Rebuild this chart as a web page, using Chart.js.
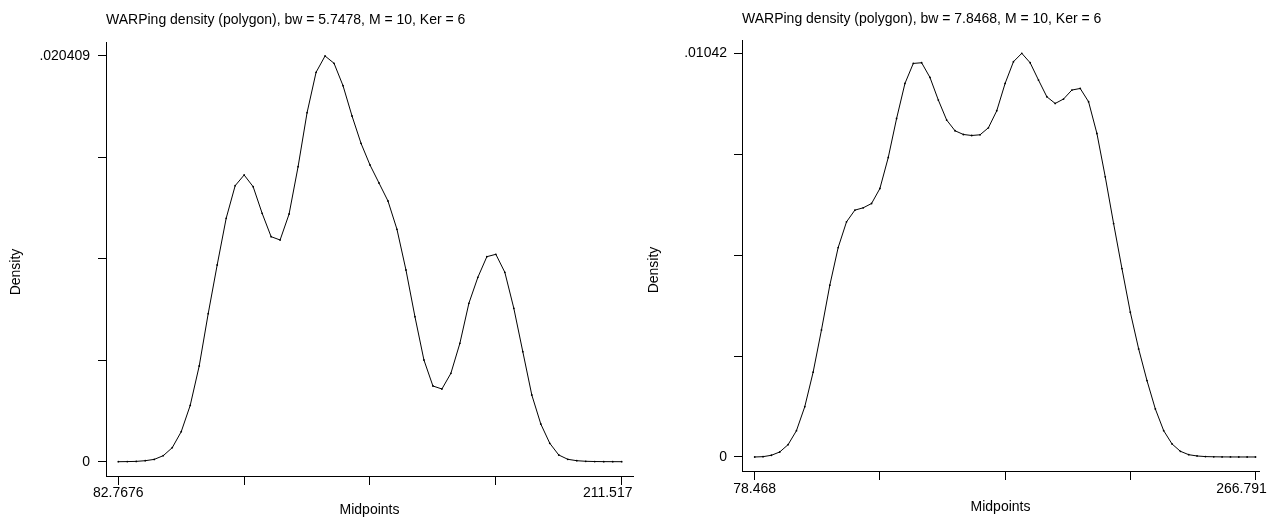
<!DOCTYPE html>
<html>
<head>
<meta charset="utf-8">
<script src="https://cdn.jsdelivr.net/npm/chart.js@4.4.1/dist/chart.umd.min.js"></script>
<style>
  html, body { margin: 0; padding: 0; background: #fff; }
  #wrap { position: relative; width: 1276px; height: 518px; }
  canvas { position: absolute; top: 0; }
  #c1 { left: 0; }
  #c2 { left: 638px; }
</style>
</head>
<body>
<div id="wrap">
  <canvas id="c1" width="638" height="518"></canvas>
  <canvas id="c2" width="638" height="518"></canvas>
</div>
<script>
// ---------- data : left panel ----------
const titleLeft = 'WARPing density (polygon), bw = 5.7478, M = 10, Ker = 6';
const midpointsLeft = [
  82.768, 85.067, 87.366, 89.665, 91.964, 94.263, 96.562, 98.861, 101.160, 103.459,
  105.759, 108.058, 110.357, 112.656, 114.955, 117.254, 119.553, 121.852, 124.151, 126.450,
  128.750, 131.049, 133.348, 135.647, 137.946, 140.245, 142.544, 144.843, 147.142, 149.441,
  151.741, 154.040, 156.339, 158.638, 160.937, 163.236, 165.535, 167.834, 170.133, 172.432,
  174.732, 177.031, 179.330, 181.629, 183.928, 186.227, 188.526, 190.825, 193.124, 195.423,
  197.723, 200.022, 202.321, 204.620, 206.919, 209.218, 211.517
];
const densityLeft = [
  0, 0.000005, 0.000015, 0.00005, 0.000116, 0.000302, 0.000704, 0.001509, 0.002832, 0.004814,
  0.007445, 0.009895, 0.012245, 0.013884, 0.014423, 0.013834, 0.012496, 0.011319, 0.011153, 0.012461,
  0.014840, 0.017557, 0.019589, 0.020409, 0.020042, 0.018915, 0.017391, 0.016017, 0.014926, 0.014020,
  0.013115, 0.011691, 0.009644, 0.007294, 0.005116, 0.003808, 0.003657, 0.004447, 0.005956, 0.007968,
  0.009276, 0.010313, 0.010433, 0.009528, 0.007717, 0.005534, 0.003355, 0.001897, 0.000926, 0.000337,
  0.000121, 0.00005, 0.00002, 0.000008, 0.000003, 0.000001, 0
];
const xTicksLeft = [82.7676, 114.955, 147.142, 179.330, 211.517];
const xTickLabelsLeft = ['82.7676', '', '', '', '211.517'];
const yTicksLeft = [0, 0.00510225, 0.0102045, 0.01530675, 0.020409];
const yTickLabelsLeft = ['0', '', '', '', '.020409'];

// ---------- data : right panel ----------
const titleRight = 'WARPing density (polygon), bw = 7.8468, M = 10, Ker = 6';
const midpointsRight = [
  78.468, 81.607, 84.745, 87.884, 91.023, 94.162, 97.300, 100.439, 103.578, 106.716,
  109.855, 112.994, 116.133, 119.271, 122.410, 125.549, 128.688, 131.826, 134.965, 138.104,
  141.242, 144.381, 147.520, 150.659, 153.797, 156.936, 160.075, 163.214, 166.352, 169.491,
  172.630, 175.768, 178.907, 182.046, 185.185, 188.323, 191.462, 194.601, 197.740, 200.878,
  204.017, 207.156, 210.294, 213.433, 216.572, 219.711, 222.849, 225.988, 229.127, 232.266,
  235.404, 238.543, 241.682, 244.820, 247.959, 251.098, 254.237, 257.375, 260.514, 263.653,
  266.791
];
const densityRight = [
  0, 0.000008, 0.000044, 0.000129, 0.000318, 0.000679, 0.001299, 0.002188, 0.003280, 0.004435,
  0.005406, 0.006070, 0.006372, 0.006432, 0.006543, 0.006930, 0.007731, 0.008738, 0.009642, 0.010159,
  0.010177, 0.009797, 0.009214, 0.008697, 0.008421, 0.008325, 0.008299, 0.008317, 0.008498, 0.008937,
  0.009642, 0.010203, 0.010420, 0.010177, 0.009730, 0.009299, 0.009126, 0.009240, 0.009472, 0.009513,
  0.009170, 0.008351, 0.007232, 0.006026, 0.004864, 0.003738, 0.002790, 0.001971, 0.001240, 0.000679,
  0.000336, 0.000147, 0.000059, 0.000026, 0.000010, 0.000005, 0.000002, 0.000001, 0, 0,
  0
];
const xTicksRight = [78.468, 125.549, 172.630, 219.710, 266.791];
const xTickLabelsRight = ['78.468', '', '', '', '266.791'];
const yTicksRight = [0, 0.002605, 0.00521, 0.007815, 0.01042];
const yTickLabelsRight = ['0', '', '', '', '.01042'];

const xAxisTitle = 'Midpoints';
const yAxisTitle = 'Density';

// ---------- rendering ----------
const FONT = '"Liberation Sans", Arial, sans-serif';
const FS = 14;
Chart.defaults.font.family = FONT;
Chart.defaults.color = '#000';

// y-axis title drawn a little below the axis centre, as in the original
const yTitlePlugin = {
  id: 'yTitle',
  afterDraw(chart, args, opts) {
    const ctx = chart.ctx;
    ctx.save();
    ctx.font = FS + 'px ' + FONT;
    ctx.fillStyle = '#000';
    ctx.textAlign = 'center';
    ctx.textBaseline = 'middle';
    ctx.translate(opts.x, opts.y);
    ctx.rotate(-Math.PI / 2);
    ctx.fillText(opts.text, 0, 0);
    ctx.restore();
  }
};

// the last x label is kept inside the graph region (shifted left like the original)
const EN_SPACE = '\u2002';
function xLabelFn(labels) {
  return (v, i) => (i === labels.length - 1 && labels[i]) ? labels[i] + EN_SPACE.repeat(4) : labels[i];
}

function makeChart(canvasId, cfg) {
  const pts = cfg.xs.map((x, i) => ({ x: x, y: cfg.ys[i] }));
  return new Chart(document.getElementById(canvasId), {
    type: 'line',
    data: {
      datasets: [{
        data: pts,
        borderColor: '#000',
        borderWidth: 1,
        pointRadius: 0.9,
        pointBorderWidth: 0,
        pointBackgroundColor: '#000',
        tension: 0,
        fill: false
      }]
    },
    plugins: [yTitlePlugin],
    options: {
      responsive: false,
      animation: false,
      devicePixelRatio: 1,
      layout: { padding: { left: 0, top: 0, right: cfg.padRight, bottom: 0 } },
      plugins: {
        legend: { display: false },
        tooltip: { enabled: false },
        yTitle: { text: yAxisTitle, x: 16, y: cfg.yTitleY },
        title: {
          display: true,
          text: cfg.title,
          fullSize: false,
          align: 'start',
          color: '#000',
          font: { size: FS, weight: 'normal', lineHeight: 1.25 },
          padding: { top: cfg.titleTop, bottom: cfg.titleBottom }
        }
      },
      scales: {
        x: {
          type: 'linear',
          min: cfg.xMin,
          max: cfg.xMax,
          afterBuildTicks: s => { s.ticks = cfg.xTicks.map(v => ({ value: v })); },
          afterFit: s => { s.height = cfg.xAxisH; s.paddingLeft = 0; s.paddingRight = 0; },
          ticks: {
            autoSkip: false,
            maxRotation: 0,
            padding: cfg.xTickPad,
            font: { size: FS, lineHeight: 1 },
            color: '#000',
            callback: xLabelFn(cfg.xLabels)
          },
          grid: { drawOnChartArea: false, drawTicks: true, tickLength: 9, color: '#000', lineWidth: 1 },
          border: { display: true, color: '#000', width: 1 },
          title: {
            display: true,
            text: xAxisTitle,
            color: '#000',
            font: { size: FS, lineHeight: 1 },
            padding: { top: 0, bottom: cfg.xTitlePad }
          }
        },
        y: {
          type: 'linear',
          min: cfg.yMin,
          max: cfg.yMax,
          afterBuildTicks: s => { s.ticks = cfg.yTicks.map(v => ({ value: v })); },
          afterFit: s => { s.width = cfg.yAxisW; s.paddingTop = 0; s.paddingBottom = 0; },
          ticks: {
            autoSkip: false,
            padding: cfg.yTickPad,
            font: { size: FS, lineHeight: 1 },
            color: '#000',
            callback: (v, i) => cfg.yLabels[i]
          },
          grid: { drawOnChartArea: false, drawTicks: true, tickLength: 8, color: '#000', lineWidth: 1 },
          border: { display: true, color: '#000', width: 1 },
          title: { display: false }
        }
      }
    }
  });
}

makeChart('c1', {
  xs: midpointsLeft, ys: densityLeft, title: titleLeft,
  xTicks: xTicksLeft, xLabels: xTickLabelsLeft, yTicks: yTicksLeft, yLabels: yTickLabelsLeft,
  xMin: 79.62, xMax: 214.41, yMin: -0.00072, yMax: 0.021113,
  padRight: 5, titleTop: 11, titleBottom: 13.5, xAxisH: 42, yAxisW: 106,
  xTickPad: 1, xTitlePad: 1, yTickPad: 8, yTitleY: 272
});

makeChart('c2', {
  xs: midpointsRight, ys: densityRight, title: titleRight,
  xTicks: xTicksRight, xLabels: xTickLabelsRight, yTicks: yTicksRight, yLabels: yTickLabelsRight,
  xMin: 73.69, xMax: 268.11, yMin: -0.000362, yMax: 0.010764,
  padRight: 17, titleTop: 10, titleBottom: 12.5, xAxisH: 47, yAxisW: 104,
  xTickPad: 2, xTitlePad: 4, yTickPad: 7, yTitleY: 270
});
</script>
</body>
</html>
